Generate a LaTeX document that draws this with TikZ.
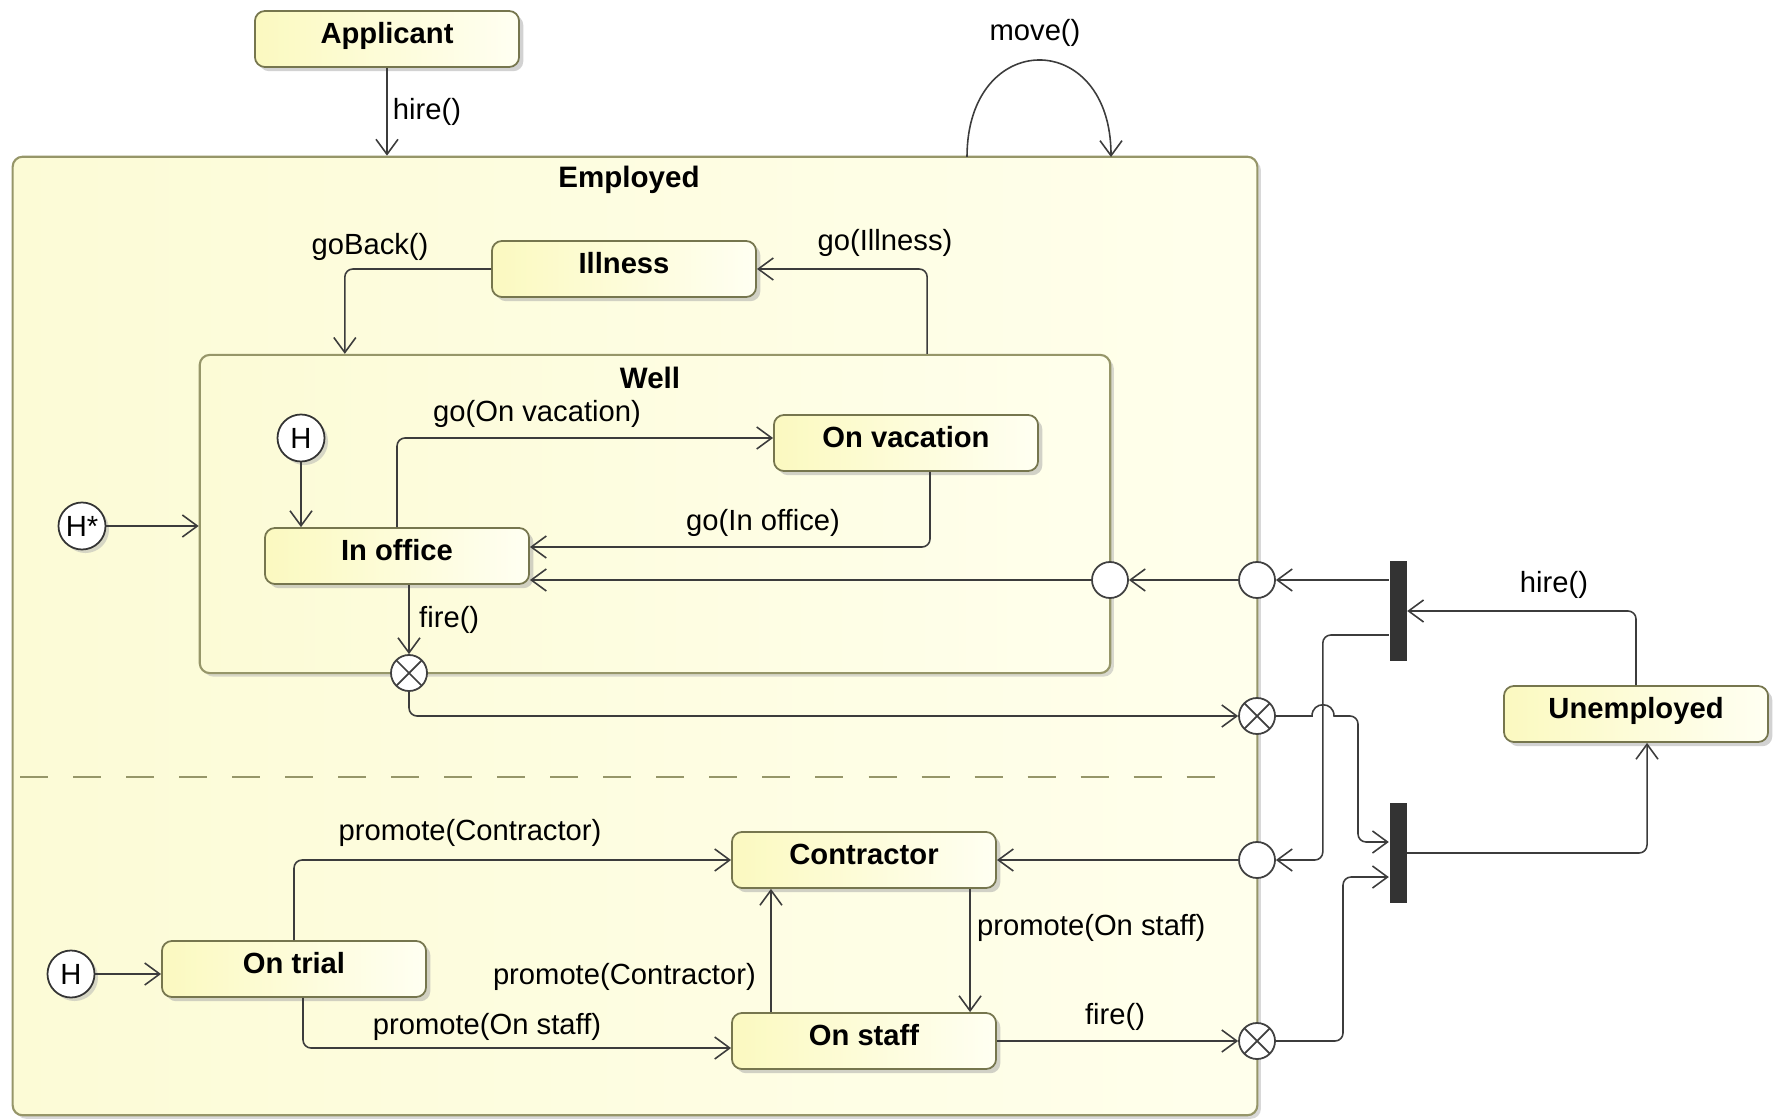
\documentclass[tikz,border=0pt]{standalone}
\usepackage{fontspec}
\setmainfont{Liberation Sans}
\usetikzlibrary{arrows.meta,shadows}

\definecolor{state_line}{RGB}{118,118,78}
\definecolor{region_line}{RGB}{150,150,105}
\definecolor{state_left}{RGB}{251,249,192}
\definecolor{state_right}{RGB}{255,255,242}
\definecolor{region_left}{RGB}{252,251,214}
\definecolor{region_right}{RGB}{255,255,236}
\definecolor{flow}{RGB}{60,60,60}

\tikzset{
  txt/.style={font=\fontsize{8.3}{10}\selectfont, inner sep=1pt},
  statebox/.style={rectangle, rounded corners=1mm, draw=state_line, line width=0.5pt,
    left color=state_left, right color=state_right,
    minimum width=2.64cm, minimum height=0.56cm,
    text height=6pt, text depth=3.2pt,
    font=\bfseries\fontsize{8.3}{10}\selectfont,
    drop shadow={shadow xshift=1.2pt, shadow yshift=-1.2pt, fill=black!35}},
  region/.style={rectangle, rounded corners=1mm, draw=region_line, line width=0.6pt,
    left color=region_left, right color=region_right, inner sep=0pt,
    drop shadow={shadow xshift=1pt, shadow yshift=-1pt, fill=black!30}},
  regiontitle/.style={txt, font=\bfseries\fontsize{8.4}{10}\selectfont},
  histpt/.style={txt, circle, draw=black!80, fill=white, line width=0.5pt,
    minimum size=0.47cm, inner sep=0pt,
    drop shadow={shadow xshift=1pt, shadow yshift=-1pt, fill=black!30}},
  entrypt/.style={circle, draw=black!75, fill=white, line width=0.5pt,
    minimum size=0.36cm, inner sep=0pt},
  exitpt/.style={entrypt, path picture={
    \draw[black!75, line width=0.5pt]
      (path picture bounding box.north west) -- (path picture bounding box.south east)
      (path picture bounding box.north east) -- (path picture bounding box.south west);}},
  forkbar/.style={rectangle, fill=black!80, minimum width=0.17cm, minimum height=0.99cm, inner sep=0pt},
  flowline/.style={draw=flow, line width=0.45pt, rounded corners=0.08cm, ->},
  divider/.style={draw=region_line, line width=0.6pt, dash pattern=on 0.28cm off 0.25cm}
}

\begin{document}
\begin{tikzpicture}[x=0.01cm, y=-0.01cm, >={Straight Barb[length=1.5mm,width=2.2mm]}]
\useasboundingbox (0,0) rectangle (1783,1119);

% composite states
\node[region, minimum width=12.44cm, minimum height=9.58cm] (employed) at (635,636) {};
\node[regiontitle] (employedname) at (629,180) {Employed};
\draw[divider] (20,777) -- (1228,777);
\node[region, minimum width=9.10cm, minimum height=3.18cm] (well) at (655,514) {};
\node[regiontitle] (wellname) at (650,378) {Well};

% simple states
\node[statebox] (applicant) at (387,39) {Applicant};
\node[statebox] (illness) at (624,269) {Illness};
\node[statebox] (inoffice) at (397,556) {In office};
\node[statebox] (onvacation) at (906,443) {On vacation};
\node[statebox] (unemployed) at (1636,714) {Unemployed};
\node[statebox] (ontrial) at (294,969) {On trial};
\node[statebox] (contractor) at (864,860) {Contractor};
\node[statebox] (onstaff) at (864,1041) {On staff};

% pseudostates
\node[histpt] (hwell) at (301,438) {H};
\node[histpt] (hdeep) at (82,526) {H*};
\node[histpt] (htrial) at (71,974) {H};
\node[entrypt] (wellentry) at (1110,580) {};
\node[entrypt] (empentry) at (1257,580) {};
\node[entrypt] (empentry2) at (1257,860) {};
\node[exitpt] (wellexit) at (409,673) {};
\node[exitpt] (empexit) at (1257,716) {};
\node[exitpt] (empexit2) at (1257,1041) {};
\node[forkbar] (forkup) at (1398,611) {};
\node[forkbar] (forkdown) at (1398,853) {};

% transitions
\draw[flowline] (applicant) -- (applicant |- employed.north);
\coordinate (movefrom) at (967,157);
\coordinate (moveto) at (1111,157);
\draw[flowline] (movefrom) .. controls (967,28) and (1111,28) .. (moveto);
\draw[flowline] (illness.west) -| ([xshift=-3.1cm]well.north);
\draw[flowline] ([xshift=2.72cm]well.north) |- (illness.east);
\draw[flowline] (hdeep) -- (hdeep -| well.west);
\draw[flowline] (hwell) -- (hwell |- inoffice.north);
\draw[flowline] (inoffice.north) |- ([yshift=0.05cm]onvacation.west);
\draw[flowline] ([xshift=0.24cm]onvacation.south) |- ([yshift=0.09cm]inoffice.east);
\draw[flowline] (wellentry) -- (wellentry -| inoffice.east);
\draw[flowline] (empentry) -- (wellentry);
\draw[flowline] (forkup.west |- empentry) -- (empentry);
\draw[flowline] ([yshift=-0.24cm]forkup.west) -- ++(-66,0) |- (empentry2);
\draw[flowline] (unemployed.north) |- (forkup.east);
\draw[flowline] (wellexit |- inoffice.south) -- (wellexit);
\draw[flowline] (wellexit) |- (empexit);
\draw[flowline, sharp corners] (empexit) -- ++(55,0) .. controls +(0,-15) and +(0,-15) .. ++(22,0)
  [rounded corners=0.08cm] -- ++(24,0) |- ([yshift=0.11cm]forkdown.west);
\draw[flowline] (forkdown.east) -| ([xshift=0.11cm]unemployed.south);
\draw[flowline] (empexit2) -- ++(86,0) |- ([yshift=-0.24cm]forkdown.west);
\draw[flowline] (htrial) -- (htrial -| ontrial.west);
\draw[flowline] (ontrial.north) |- (contractor.west);
\draw[flowline] ([xshift=0.09cm]ontrial.south) |- ([yshift=-0.07cm]onstaff.west);
\draw[flowline] ([xshift=-0.93cm]onstaff.north) -- ([xshift=-0.93cm]contractor.south);
\draw[flowline] ([xshift=1.06cm]contractor.south) -- ([xshift=1.06cm]onstaff.north);
\draw[flowline] (empentry2) -- (empentry2 -| contractor.east);
\draw[flowline] (onstaff) -- (empexit2);

% labels
\node[txt] (lhire) at (427,112) {hire()};
\node[txt] (lmove) at (1035,33) {move()};
\node[txt] (lgoback) at (370,247) {goBack()};
\node[txt] (lgoill) at (885,243) {go(Illness)};
\node[txt] (lgovac) at (537,414) {go(On vacation)};
\node[txt] (lgooff) at (763,523) {go(In office)};
\node[txt, anchor=west] (lfire) at (415,620) {fire()};
\node[txt] (lrehire) at (1554,585) {hire()};
\node[txt] (lpromc) at (470,833) {promote(Contractor)};
\node[txt] (lproms) at (487,1027) {promote(On staff)};
\node[txt, anchor=east] (lpromc2) at (760,977) {promote(Contractor)};
\node[txt, anchor=west] (lproms2) at (973,928) {promote(On staff)};
\node[txt] (lfire2) at (1115,1017) {fire()};
\end{tikzpicture}
\end{document}
